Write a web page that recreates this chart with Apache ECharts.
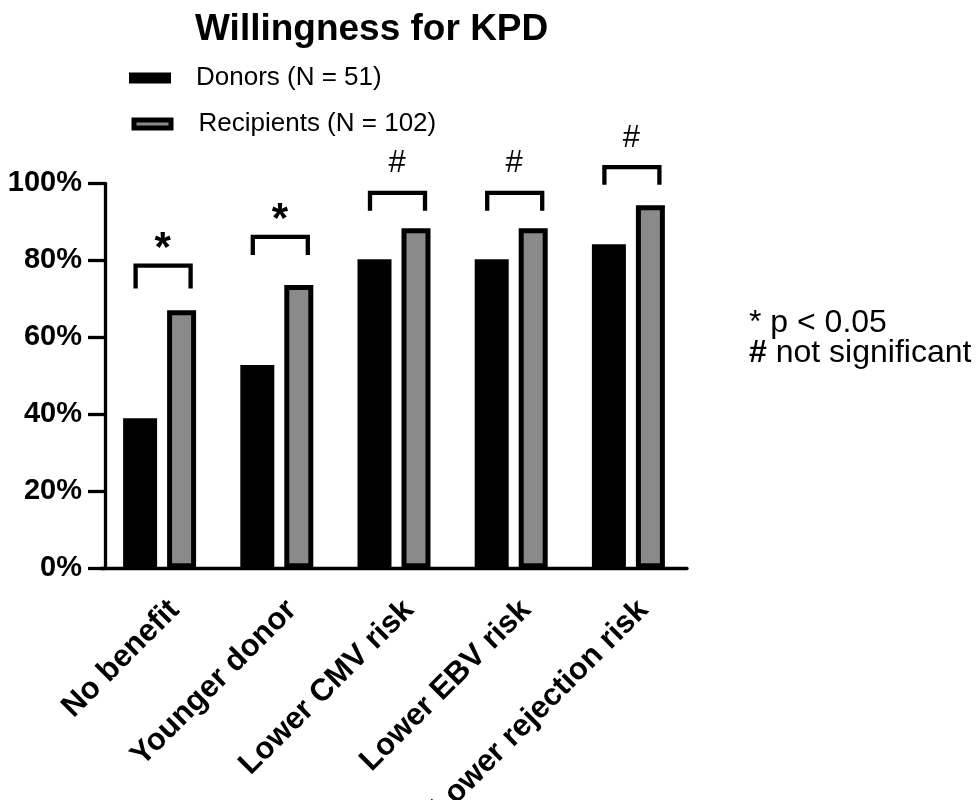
<!DOCTYPE html>
<html><head><meta charset="utf-8">
<script src="https://cdn.jsdelivr.net/npm/echarts@6/dist/echarts.min.js"></script>
<style>html,body{margin:0;padding:0;background:#fff}#c{width:978px;height:800px}</style>
</head><body><div id="c"></div>
<script>
const categories = ['No benefit', 'Younger donor', 'Lower CMV risk', 'Lower EBV risk', 'Lower rejection risk'];
const donors = [39.0, 52.8, 80.3, 80.3, 84.2];
const recipients = [67.0, 73.6, 88.3, 88.3, 94.3];
const sigMarks = ['*', '*', '#', '#', '#'];
const bracketTop = [78.6, 86.1, 97.5, 97.5, 104.2];
const bracketLeg = [72.7, 81.4, 92.9, 92.9, 99.6];
const seriesNames = ['Donors (N = 51)', 'Recipients (N = 102)'];

const FONT = '"Liberation Sans", Arial, Helvetica, sans-serif';
const chart = echarts.init(document.getElementById('c'), null, {renderer: 'canvas'});

const option = {
  animation: false,
  backgroundColor: '#fff',
  title: {
    text: 'Willingness for KPD', left: 195, top: 11, padding: 0,
    textStyle: {fontFamily: FONT, fontSize: 37, fontWeight: 'bold', color: '#000'}
  },
  legend: [
    {
      data: [{name: seriesNames[0], itemStyle: {color: '#000', borderWidth: 0}}],
      left: 129, top: 65, padding: 0, itemWidth: 42, itemHeight: 11, icon: 'rect',
      selectedMode: false,
      textStyle: {fontFamily: FONT, fontSize: 26, color: '#000', padding: [0, 0, 0, 20]}
    },
    {
      data: [{name: seriesNames[1], itemStyle: {color: '#8a8a8a', borderColor: '#000', borderWidth: 5}}],
      left: 131.5, top: 111, padding: 0, itemWidth: 37, itemHeight: 8, icon: 'rect',
      selectedMode: false,
      textStyle: {fontFamily: FONT, fontSize: 26, color: '#000', padding: [0, 0, 0, 22.5]}
    }
  ],
  grid: [
    {left: 101, top: 183.3, width: 586, height: 385, outerBoundsMode: 'none', containLabel: false},
    {left: 116, top: 183.3, width: 586, height: 385, outerBoundsMode: 'none', containLabel: false}
  ],
  xAxis: [
    {
      gridIndex: 0, type: 'category', data: categories,
      axisLine: {lineStyle: {color: '#000', width: 3.3}},
      axisTick: {alignWithLabel: true, length: 14, lineStyle: {color: '#000', width: 3}},
      axisLabel: {show: false}
    },
    {
      gridIndex: 1, type: 'category', data: categories,
      axisLine: {show: false}, axisTick: {show: false},
      axisLabel: {
        interval: 0, rotate: 45, margin: 37,
        fontFamily: FONT, fontSize: 31, fontWeight: 'bold', color: '#000'
      }
    }
  ],
  yAxis: [
    {
      gridIndex: 0, type: 'value', min: 0, max: 100, interval: 20, offset: -4,
      axisLine: {show: true, lineStyle: {color: '#000', width: 3.3}},
      axisTick: {show: true, length: 17, lineStyle: {color: '#000', width: 3.3}},
      splitLine: {show: false},
      axisLabel: {
        formatter: '{value}%', margin: 23,
        fontFamily: FONT, fontSize: 29, fontWeight: 'bold', color: '#000'
      }
    },
    {gridIndex: 1, type: 'value', min: 0, max: 100, show: false}
  ],
  series: [
    {
      name: seriesNames[0], type: 'bar', data: donors,
      xAxisIndex: 0, yAxisIndex: 0,
      barWidth: 34, barGap: '29.4%',
      itemStyle: {color: '#000'}
    },
    {
      name: seriesNames[1], type: 'bar', data: recipients,
      xAxisIndex: 0, yAxisIndex: 0,
      barWidth: 29, barGap: '29.4%',
      itemStyle: {color: '#8a8a8a', borderColor: '#000', borderWidth: 5}
    },
    {
      type: 'custom', xAxisIndex: 0, yAxisIndex: 0, clip: false, silent: true, z: 5,
      data: categories.map((c, i) => [i, bracketTop[i], bracketLeg[i]]),
      encode: {x: 0, y: 1},
      renderItem: function (params, api) {
        const i = api.value(0);
        const top = api.coord([i, api.value(1)]);
        const leg = api.coord([i, api.value(2)]);
        const x = top[0];
        const mark = sigMarks[params.dataIndex];
        const star = mark === '*';
        return {
          type: 'group',
          children: [
            {
              type: 'polyline',
              shape: {points: [[x - 24, leg[1]], [x - 24, top[1]], [x + 31, top[1]], [x + 31, leg[1]]]},
              style: {stroke: '#000', lineWidth: 4.3, fill: null, lineJoin: 'miter'}
            },
            {
              type: 'text', x: x + 3, y: top[1] - (star ? 16 : 29),
              style: {
                text: mark, fill: '#000', fontFamily: FONT,
                fontSize: star ? 42 : 31, fontWeight: star ? 'bold' : 'normal',
                align: 'center', verticalAlign: 'middle'
              }
            }
          ]
        };
      }
    }
  ],
  graphic: [
    {
      type: 'text', left: 749, top: 307,
      style: {text: '* p < 0.05', fontFamily: FONT, fontSize: 32, fill: '#000'}
    },
    {
      type: 'text', left: 749, top: 337,
      style: {
        text: '{b|#} not significant', fontFamily: FONT, fontSize: 32, fill: '#000',
        rich: {b: {fontFamily: FONT, fontSize: 32, fontWeight: 'bold', fill: '#000'}}
      }
    }
  ]
};
chart.setOption(option);
</script>
</body></html>
